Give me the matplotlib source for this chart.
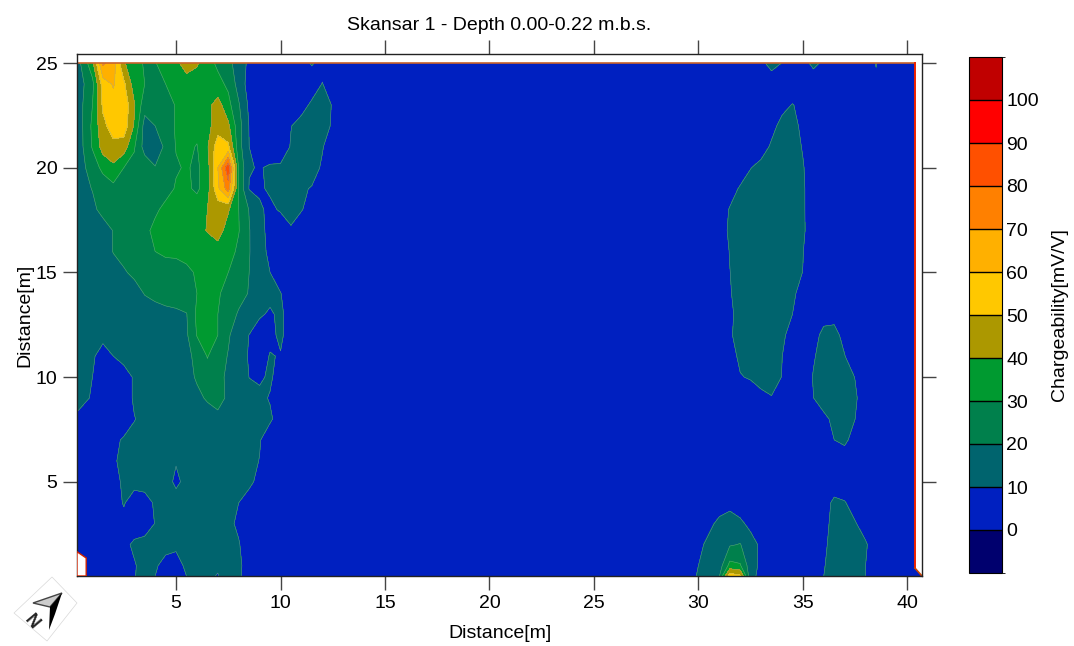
import numpy as np
import matplotlib
matplotlib.use('Agg')
import matplotlib.pyplot as plt
from matplotlib.colors import BoundaryNorm, ListedColormap

plt.rcParams['font.family'] = ['Liberation Sans', 'DejaVu Sans']

levels = [-10, 0, 10, 20, 30, 40, 50, 60, 70, 80, 90, 100, 110]
level_colors = ['#00006e', '#0020c0', '#00646e', '#00804c', '#009a30', '#ac9800',
                '#ffc800', '#ffb000', '#ff8000', '#ff5000', '#ff0000', '#c00000']
cbar_ticks = [0, 10, 20, 30, 40, 50, 60, 70, 80, 90, 100]
axis_ticks_x = [5, 10, 15, 20, 25, 30, 35, 40]
axis_ticks_y = [5, 10, 15, 20, 25]

background = 5

depth_rows = [0.5, 1, 2, 3, 4, 5, 6, 7, 8, 9, 10, 11, 12, 13, 14, 15, 16, 17, 18, 19, 20, 21, 22, 23, 24, 25]

# left side of the section
left_x = [0.26, 1, 1.5, 2, 2.5, 3, 3.5, 4, 4.5, 5, 5.5, 6, 6.5, 7, 7.5, 8, 8.5, 9, 9.5, 10, 10.5, 11, 11.5, 12, 12.5, 13]
left_values = [
    [5, 5, 5, 5, 5, 9.7, 12, 10, 7, 6, 10, 12, 10.6, 9.8, 12, 11, 7, 5, 5, 5, 5, 5, 5, 5, 5, 5],
    [5, 5, 5, 5, 5, 9.5, 12, 10.8, 8, 8, 11, 12, 11, 10.5, 12, 11.5, 6.5, 5, 5, 5, 5, 5, 5, 5, 5, 5],
    [5, 5, 5, 5, 8.5, 11, 12, 12, 12, 11, 12, 13, 13, 13, 12, 10.5, 6, 5, 5, 5, 5, 5, 5, 5, 5, 5],
    [5, 5, 5, 5, 8, 7, 7, 10.2, 12, 12, 12, 13, 13, 13, 11.5, 8.8, 5, 5, 5, 5, 5, 5, 5, 5, 5, 5],
    [5, 5, 5, 7, 10.5, 7, 7, 11, 13, 13, 13, 14, 14, 14, 12, 10, 7, 5, 5, 5, 5, 5, 5, 5, 5, 5],
    [5, 5, 5, 8, 11, 12, 13, 13, 13, 8.5, 12, 14, 14, 14, 14, 13, 11.5, 8, 5, 5, 5, 5, 5, 5, 5, 5],
    [5, 5, 5, 9.5, 11, 12, 13, 14, 14, 10.5, 13, 14, 15, 15, 14, 13, 12, 9.8, 5, 5, 5, 5, 5, 5, 5, 5],
    [5, 5, 5, 8, 11, 12, 13, 14, 15, 15, 15, 15, 15, 16, 15, 14, 13, 10.5, 6, 5, 5, 5, 5, 5, 5, 5],
    [9, 6, 5, 5, 5, 9.7, 12, 13, 14, 15, 15, 15, 16, 17, 19, 16, 14, 13, 11, 7, 5, 5, 5, 5, 5, 5],
    [12, 9.5, 5, 5, 6, 11, 13, 14, 15, 15, 16, 18, 21, 24, 18, 14, 12, 11.5, 9.5, 5, 5, 5, 5, 5, 5, 5],
    [13, 10, 6, 5, 6, 11, 13, 14, 15, 15, 17, 21, 26, 23, 18, 14, 9.9, 9, 11, 7, 5, 5, 5, 5, 5, 5],
    [13, 11, 7, 10, 13, 14, 15, 15, 16, 16, 18, 22, 30.5, 24, 19.5, 15, 9, 6, 10.5, 9.5, 5, 5, 5, 5, 5, 5],
    [12, 12, 12, 12, 13, 14, 15, 15, 16, 17, 18.5, 30.5, 37, 30, 21, 15, 9.8, 6, 8, 11.5, 6, 5, 5, 5, 5, 5],
    [12, 12, 12, 12, 13, 14, 15, 17, 18, 18, 19.5, 32, 36, 30, 24, 19, 15, 11, 9, 11.5, 6.5, 5, 5, 5, 5, 5],
    [12, 12, 12, 13, 14, 16, 20.5, 22, 23, 25, 27, 30, 34, 31, 27, 23, 19.5, 15, 12, 10.3, 5, 5, 5, 5, 5, 5],
    [12, 12, 12, 15, 19, 22, 23, 24, 25, 26, 28, 31, 33, 34, 30, 24, 20, 16, 10, 5, 5, 5, 5, 5, 5, 5],
    [13, 13, 14, 20.5, 23, 25, 27, 30, 32, 32, 33, 34, 35, 36, 34, 28, 20.5, 14, 7.5, 5, 5, 5, 5, 5, 5, 5],
    [13, 13, 14, 20.5, 23, 24, 27, 33, 34, 35, 36, 37, 40.5, 44, 36, 30.5, 20.5, 13, 7, 5, 9.5, 7, 5, 5, 5, 5],
    [13, 17, 24, 24, 25, 26, 27, 28, 33, 35, 36, 36, 40, 44, 41, 30, 19.5, 11, 8.5, 10.8, 11.5, 10.3, 8, 6, 5, 5],
    [14, 20.5, 23, 27, 28, 26, 25, 24, 26, 31, 32, 28, 36, 58, 75, 28, 9.5, 9, 11, 14, 13, 11, 9.5, 7, 5, 5],
    [15, 24, 33, 38, 30, 27, 26, 20.5, 24, 29, 31, 28, 36, 60, 88, 29, 10.5, 9.5, 11, 11, 12, 13, 13, 9, 6, 5],
    [13, 31, 44, 47, 45, 31, 16, 14, 22, 30.5, 32, 29.5, 39, 56, 52, 24, 10, 5, 5, 6, 10.5, 13, 14, 10.5, 6, 5],
    [13, 32, 47, 55, 56, 39, 16, 20, 25, 31, 32, 33, 37, 45, 42, 24, 9.5, 6, 6, 7, 9.8, 12, 13, 13, 9, 6],
    [14, 30, 52, 56, 57, 41, 24, 24, 24, 31, 35, 36, 37, 44, 33, 21, 8, 6, 5, 5, 5, 8, 11, 13, 9.5, 5],
    [14, 27, 55, 61, 52, 35, 30, 27, 30, 33, 36, 36, 35, 33, 28, 16, 6, 5, 5, 5, 5, 5, 7, 10.2, 7, 5],
    [15, 37, 72, 65, 41, 34, 29, 29.5, 34, 38, 44, 41, 34, 28, 23, 15, 8, 5, 5, 5, 5, 8, 10.5, 8, 5, 5],
]

# right side of the section
right_x = [29.5, 30, 30.5, 31, 31.5, 32, 32.5, 33, 33.5, 34, 34.5, 35, 35.5, 36, 36.5, 37, 37.5, 38, 38.5]
right_values = [
    [6, 11, 13, 19.5, 56, 52, 12, 8, 5, 5, 5, 5, 5, 10, 12, 13, 13, 10, 6],
    [5, 10, 13, 15, 33, 31, 14, 8, 5, 5, 5, 5, 5, 9.7, 12, 13, 13, 10, 6],
    [5, 8, 12, 14, 19, 20.5, 13, 8.5, 5, 5, 5, 5, 5, 9, 12, 13, 13, 10.8, 6],
    [5, 5, 8, 12, 13, 11.5, 8, 5, 5, 5, 5, 5, 5, 8, 12, 13, 10.5, 7, 5],
    [5, 5, 5, 6, 8, 6, 5, 5, 5, 5, 5, 5, 5, 7, 11.5, 10.4, 7, 5, 5],
    [5, 5, 5, 5, 5, 5, 5, 5, 5, 5, 5, 5, 5, 5, 6, 6, 5, 5, 5],
    [5, 5, 5, 5, 5, 5, 5, 5, 5, 5, 5, 5, 5, 5, 6, 6, 5, 5, 5],
    [5, 5, 5, 5, 5, 5, 5, 5, 5, 5, 5, 5, 5, 7, 10, 11.5, 7, 5, 5],
    [5, 5, 5, 5, 5, 5, 5, 5, 5, 5, 5, 5, 6, 8.5, 11.5, 13, 10, 6, 5],
    [5, 5, 5, 5, 5, 6, 7, 8.5, 9.6, 8, 5, 6, 9.9, 13, 14, 14, 11, 6, 5],
    [5, 5, 5, 5, 7, 9.7, 10.5, 12, 13, 9.8, 6, 7, 10.3, 13, 14, 13, 9.8, 6, 5],
    [5, 5, 5, 5, 8, 11, 12, 13, 13, 10.1, 6, 6, 9.5, 12, 13, 10.2, 6, 5, 5],
    [5, 5, 5, 6, 9.3, 12, 13, 14, 14, 11, 8, 6, 8, 11.5, 12, 8, 5, 5, 5],
    [5, 5, 5, 6, 9.4, 11, 13, 14, 14, 12, 10, 7, 5, 8, 8, 5, 5, 5, 5],
    [5, 5, 5, 6, 9.6, 12, 14, 14, 14, 13, 11, 8, 5, 5, 5, 5, 5, 5, 5],
    [5, 5, 5, 7, 9.9, 12, 14, 15, 15, 14, 12, 9.9, 6, 5, 5, 5, 5, 5, 5],
    [5, 5, 5, 7, 10.2, 13, 14, 15, 15, 15, 13, 10.2, 6, 5, 5, 5, 5, 5, 5],
    [5, 5, 5, 7, 11, 13, 15, 15, 15, 15, 14, 10.8, 7, 5, 5, 5, 5, 5, 5],
    [5, 5, 5, 6, 10.5, 13, 15, 15, 15, 15, 14, 10.7, 7, 5, 5, 5, 5, 5, 5],
    [5, 5, 5, 5, 7, 10.8, 13, 14, 15, 15, 14, 10.8, 6.5, 5, 5, 5, 5, 5, 5],
    [5, 5, 5, 5, 5, 6, 9.8, 12, 14, 15, 15, 10.5, 6, 5, 5, 5, 5, 5, 5],
    [5, 5, 5, 5, 5, 5, 5, 7, 11, 14, 13, 9.5, 6, 5, 5, 5, 5, 5, 5],
    [5, 5, 5, 5, 5, 5, 5, 6, 8, 12, 12, 8.5, 5, 5, 5, 5, 5, 5, 5],
    [5, 5, 5, 5, 5, 5, 5, 5, 6, 8, 10.3, 8, 5, 5, 5, 5, 5, 5, 5],
    [5, 5, 5, 5, 5, 5, 5, 5, 5, 5, 5, 5, 5, 5, 5, 5, 5, 5, 8],
    [5, 5, 5, 5, 5, 5, 5, 8, 13, 9.8, 6, 7, 12, 8.5, 5, 5, 5, 5, 10.5],
]

# the quiet part in the middle and the far end
middle_x = [14, 16, 18, 20, 22, 24, 26, 28, 29]
end_x = [39, 40, 40.36]

x = np.array(left_x + middle_x + right_x + end_x)
y = np.array(depth_rows)
z = np.full((len(y), len(x)), float(background))
z[:, :len(left_x)] = left_values
start = len(left_x) + len(middle_x)
z[:, start:start + len(right_x)] = right_values

fig = plt.figure(figsize=(10.74, 6.46), dpi=100)
W, H = 1074, 646
ax = fig.add_axes([77 / W, 1 - 576 / H, (922 - 77) / W, (576 - 54) / H])

cmap = ListedColormap(level_colors)
norm = BoundaryNorm(levels, cmap.N)
cf = ax.contourf(x, y, z, levels=levels, cmap=cmap, norm=norm)
ax.contour(x, y, z, levels=levels[2:], colors='#8fb0a8', linewidths=0.4, alpha=0.6)

ax.set_xlim(0.26, 40.7)
ax.set_ylim(0.5, 25.43)

# blanked edges of the section
ax.plot([0.26, 40.36], [25, 25], color='#c8622a', lw=1.2)
ax.plot([40.36, 40.36], [25, 0.88], color='#ee2200', lw=1.4)
ax.fill([40.36, 40.36, 40.7], [0.88, 0.5, 0.5], color=level_colors[1], lw=0)
ax.plot([40.36, 40.7], [0.88, 0.5], color='#cc4400', lw=1.2)
ax.fill([0.26, 0.7, 0.7, 0.26], [1.66, 1.36, 0.5, 0.5], facecolor='white', edgecolor='#cc2200', lw=1, zorder=3)

ax.set_xticks(axis_ticks_x)
ax.set_yticks(axis_ticks_y)
ax.tick_params(axis='both', which='major', length=10, width=1, color='#444444',
               labelsize=14, pad=4, top=True, right=True)
ax.set_xlabel('Distance[m]', fontsize=14, labelpad=9)
ax.set_ylabel('Distance[m]', fontsize=14, labelpad=2)
ax.set_title('Skansar 1 - Depth 0.00-0.22 m.b.s.', fontsize=14, pad=17)
for side in ax.spines:
    ax.spines[side].set_linewidth(1)
    ax.spines[side].set_color('#222222')

cax = fig.add_axes([969 / W, 1 - 573 / H, (1002 - 969) / W, (573 - 57) / H])
cbar = fig.colorbar(cf, cax=cax, ticks=cbar_ticks, drawedges=True)
cbar.dividers.set_color('black')
cbar.dividers.set_linewidth(1)
cbar.outline.set_edgecolor('black')
cbar.ax.tick_params(length=0, labelsize=14, pad=3)
cbar.set_label('Chargeability[mV/V]', fontsize=14, labelpad=9)

# north arrow in the lower corner
icon = fig.add_axes([12 / W, 1 - 642 / H, 66 / W, 66 / H])
icon.set_xlim(0, 66)
icon.set_ylim(66, 0)
icon.axis('off')
icon.fill([40, 2, 35, 65], [1, 37, 65, 27], facecolor='white', edgecolor='#d8d8d8', lw=0.5)
icon.fill([50, 21, 38], [17, 27, 31], facecolor='#cccccc', edgecolor='#444444', lw=1)
icon.fill([50, 38, 37, 43], [17, 31, 54, 38], color='black', lw=0)
icon.text(19, 46, 'N', fontsize=13, fontweight='bold', rotation=-50, ha='center', va='center', color='#222222')

fig.savefig('out.png', dpi=100)
